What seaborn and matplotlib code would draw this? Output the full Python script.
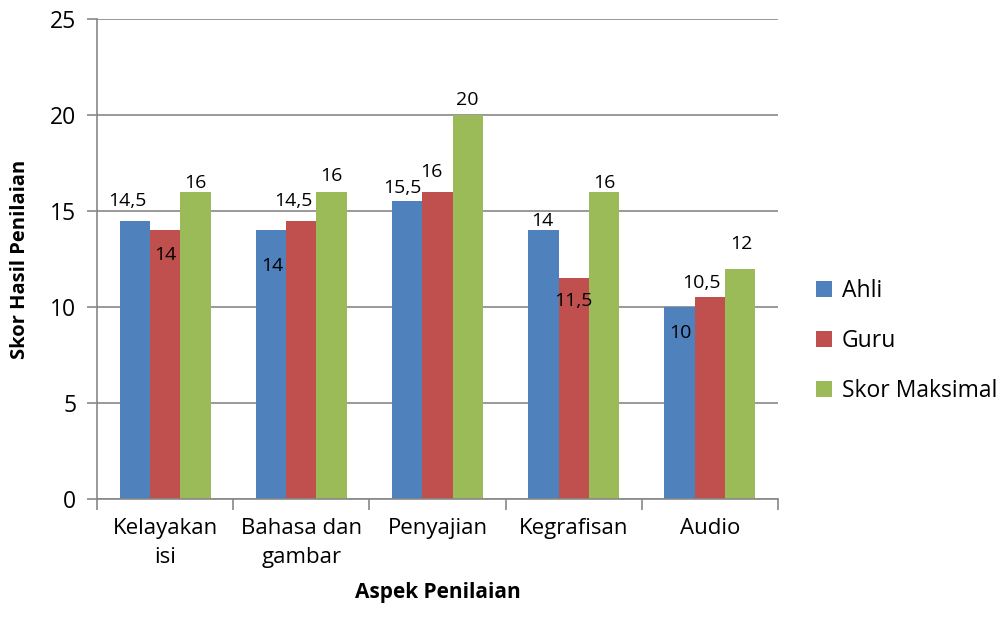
import matplotlib
matplotlib.use("Agg")
import matplotlib.pyplot as plt
import seaborn as sns
import pandas as pd
from matplotlib.ticker import FixedLocator

categories = ["Kelayakan\nisi", "Bahasa dan\ngambar", "Penyajian", "Kegrafisan", "Audio"]
series = ["Ahli", "Guru", "Skor Maksimal"]
ahli = [14.5, 14, 15.5, 14, 10]
guru = [14, 14.5, 16, 11.5, 10.5]
skor_maks = [16, 16, 20, 16, 12]
label_text = {
    "Ahli": ["14,5", "14", "15,5", "14", "10"],
    "Guru": ["14", "14,5", "16", "11,5", "10,5"],
    "Skor Maksimal": ["16", "16", "20", "16", "12"],
}
yticks = [0, 5, 10, 15, 20, 25]

# label offsets (dx, dy) in pixels relative to bar top centre
offsets = {
    "Ahli": [(-7, 20), (1, -36), (-5, 13), (-1, 9), (1, -26)],
    "Guru": [(0, -25), (-8, 20), (-6, 20), (0, -23), (-8, 14)],
    "Skor Maksimal": [(0, 9), (0, 16), (-1, 15), (0, 9), (1, 25)],
}
colors = ["#4F81BD", "#C0504D", "#9BBB59"]

rows = []
for s, vals in zip(series, [ahli, guru, skor_maks]):
    for c, v in zip(categories, vals):
        rows.append({"Aspek": c, "Seri": s, "Skor": v})
df = pd.DataFrame(rows)

sns.set_style("white")
plt.rcParams["font.family"] = ["Open Sans", "DejaVu Sans"]
plt.rcParams["text.color"] = "black"
plt.rcParams["xtick.color"] = "black"
plt.rcParams["ytick.color"] = "black"
plt.rcParams["axes.labelcolor"] = "black"

fig = plt.figure(figsize=(10, 6.21), dpi=100)
ax = fig.add_axes([0.097, 0.1965, 0.681, 0.7729])

sns.barplot(data=df, x="Aspek", y="Skor", hue="Seri", palette=colors,
            order=categories, hue_order=series, width=0.667, ax=ax,
            saturation=1, errorbar=None, legend=True, linewidth=0)

grid_c = "#878787"
ax.set_ylim(0, 25)
ax.set_yticks(yticks)
ax.set_yticklabels([str(t) for t in yticks], fontsize=16.5)
ax.yaxis.grid(True, color=grid_c, linewidth=1.2)
ax.set_axisbelow(True)
ax.set_xlim(-0.5, len(categories) - 0.5)

for side in ["top", "right"]:
    ax.spines[side].set_visible(False)
for side in ["left", "bottom"]:
    ax.spines[side].set_color(grid_c)
    ax.spines[side].set_linewidth(1.2)

ax.tick_params(axis="y", direction="out", length=7, width=1.2, color=grid_c, pad=8, left=True,
               labelcolor="black")
ax.tick_params(axis="x", which="major", length=0, pad=14, labelsize=16, labelcolor="black")
ax.xaxis.set_minor_locator(FixedLocator([i - 0.5 for i in range(len(categories) + 1)]))
ax.tick_params(axis="x", which="minor", direction="out", length=8, width=1.2, color=grid_c, bottom=True)
for lbl in ax.get_xticklabels():
    lbl.set_linespacing(1.45)

ax.set_xlabel("Aspek Penilaian", fontsize=15, fontweight="bold", labelpad=10, color="black")
ax.set_ylabel("Skor Hasil Penilaian", fontsize=14.5, fontweight="bold", labelpad=14, color="black")

for cont, s in zip(ax.containers, series):
    for i, bar in enumerate(cont):
        x = bar.get_x() + bar.get_width() / 2
        h = bar.get_height()
        dx, dy = offsets[s][i]
        ax.annotate(label_text[s][i], (x, h), xytext=(dx, dy), textcoords="offset pixels",
                    ha="center", va="center", fontsize=14, color="black")

handles, labels = ax.get_legend_handles_labels()
ax.get_legend().remove()
leg = fig.legend(handles, labels, loc="center left", bbox_to_anchor=(0.795, 0.451), frameon=False,
                 fontsize=16.5, handlelength=0.7, handleheight=0.7, handletextpad=0.45,
                 labelspacing=1.15)
for t in leg.get_texts():
    t.set_color("black")

fig.savefig("out.png", dpi=100)
